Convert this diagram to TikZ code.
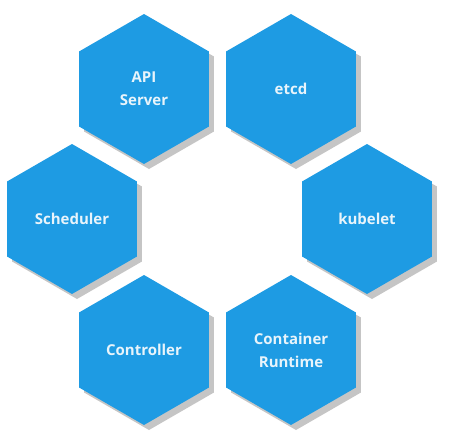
\documentclass[tikz,border=0pt]{standalone}
\usepackage{fontspec}
\setmainfont{Open Sans}
\usetikzlibrary{shapes.geometric,shadows}
\definecolor{hexblue}{HTML}{1E9BE3}
\definecolor{hextext}{HTML}{E8F4FB}
\tikzset{
  hexcell/.style={regular polygon, regular polygon sides=6, shape border rotate=30,
    minimum size=150pt, inner sep=0pt, fill=hexblue, draw=none,
    text=hextext, font=\fontsize{15}{23}\selectfont\bfseries, align=center,
    drop shadow={shadow xshift=5pt, shadow yshift=-5pt, opacity=0.5, fill=black!45}}
}
\begin{document}
\begin{tikzpicture}[x=1pt,y=-1pt]
\fill[white] (0,0) rectangle (451,440);
\useasboundingbox (0,0) rectangle (451,440);
\node[hexcell] (api) at (144,89) {API\\Server};
\node[hexcell] (etcd) at (291,89) {etcd};
\node[hexcell] (kubelet) at (367,219) {kubelet};
\node[hexcell] (runtime) at (291,350) {Container\\Runtime};
\node[hexcell] (controller) at (144,350) {Controller};
\node[hexcell] (scheduler) at (72,219) {Scheduler};
\end{tikzpicture}
\end{document}
